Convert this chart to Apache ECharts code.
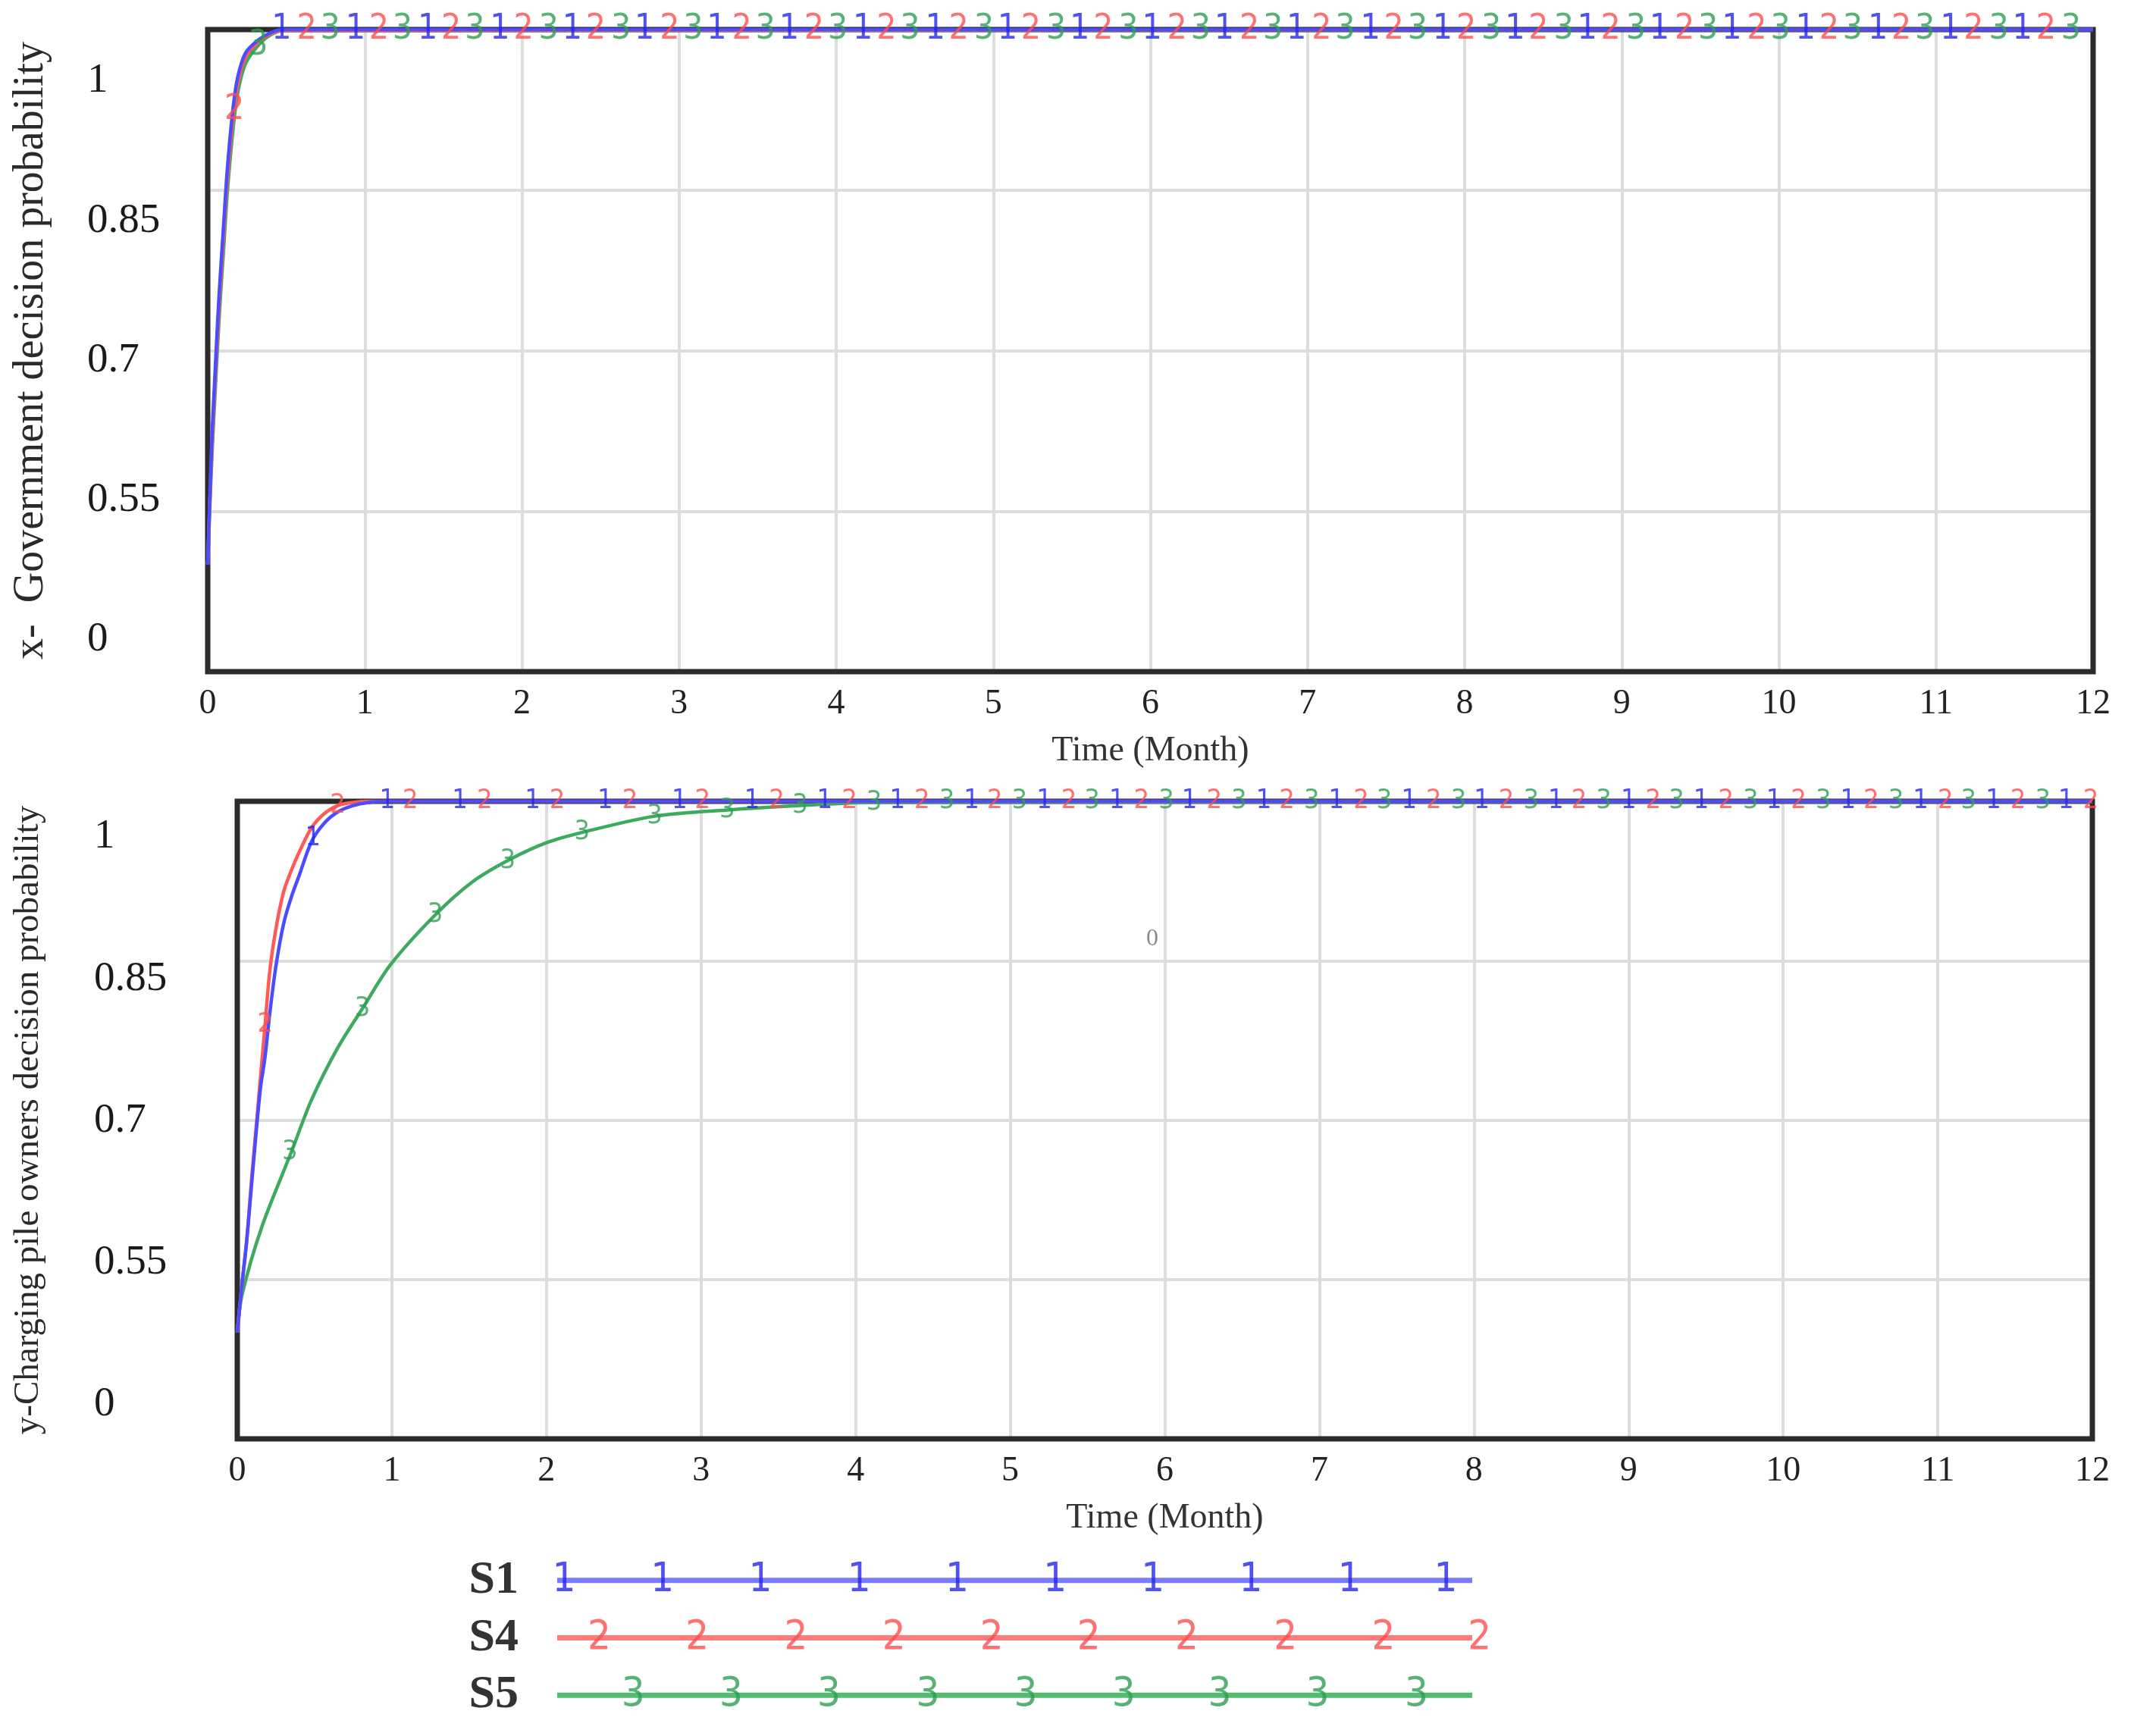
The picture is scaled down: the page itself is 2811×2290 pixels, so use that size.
<!DOCTYPE html>
<html><head><meta charset="utf-8">
<script src="https://cdn.jsdelivr.net/npm/echarts@6/dist/echarts.min.js"></script>
<style>html,body{margin:0;padding:0;background:#fff}#c{width:2811px;height:2290px}</style>
</head><body><div id="c"></div>
<script>
// ---------- tick labels ----------
const yTickLabels = ['0', '0.55', '0.7', '0.85', '1'];
const seriesNames = ['S1', 'S4', 'S5'];

// ---------- top chart: x - Government decision probability ----------
const topT  = [0, 0.015, 0.03, 0.045, 0.065, 0.08, 0.10, 0.125, 0.16, 0.19, 0.24, 0.32, 0.40, 0.48, 12];
const topS1 = [0.50, 0.57, 0.63, 0.674, 0.733, 0.77, 0.815, 0.87, 0.925, 0.955, 0.978, 0.990, 0.997, 1.0, 1.0];
const topS4 = [0.50, 0.565, 0.62, 0.665, 0.722, 0.76, 0.805, 0.86, 0.915, 0.948, 0.974, 0.988, 0.996, 0.999, 1.0];
const topS5 = [0.50, 0.56, 0.612, 0.655, 0.71, 0.748, 0.792, 0.848, 0.905, 0.94, 0.968, 0.985, 0.995, 0.999, 1.0];

// marker positions (time) and values for the top chart
const topM1T = [0.47, 0.94, 1.40, 1.86, 2.32, 2.78, 3.24, 3.70, 4.17, 4.63, 5.09, 5.55, 6.01, 6.47, 6.93, 7.40, 7.86, 8.32, 8.78, 9.24, 9.70, 10.17, 10.63, 11.09, 11.55];
const topM1V = [1, 1, 1, 1, 1, 1, 1, 1, 1, 1, 1, 1, 1, 1, 1, 1, 1, 1, 1, 1, 1, 1, 1, 1, 1];
const topM4T = [0.17, 0.63, 1.09, 1.55, 2.01, 2.47, 2.94, 3.40, 3.86, 4.32, 4.78, 5.24, 5.70, 6.17, 6.63, 7.09, 7.55, 8.01, 8.47, 8.93, 9.40, 9.86, 10.32, 10.78, 11.24, 11.70];
const topM4V = [0.925, 1, 1, 1, 1, 1, 1, 1, 1, 1, 1, 1, 1, 1, 1, 1, 1, 1, 1, 1, 1, 1, 1, 1, 1, 1];
const topM5T = [0.32, 0.78, 1.24, 1.70, 2.17, 2.63, 3.09, 3.55, 4.01, 4.47, 4.94, 5.40, 5.86, 6.32, 6.78, 7.24, 7.70, 8.17, 8.63, 9.09, 9.55, 10.01, 10.47, 10.93, 11.40, 11.86];
const topM5V = [0.985, 1, 1, 1, 1, 1, 1, 1, 1, 1, 1, 1, 1, 1, 1, 1, 1, 1, 1, 1, 1, 1, 1, 1, 1, 1];

// ---------- lower chart: y - Charging pile owners decision probability ----------
const lowT   = [0, 0.03, 0.06, 0.09, 0.12, 0.15, 0.18, 0.21, 0.25, 0.30, 0.35, 0.40, 0.48, 0.56, 0.65, 0.75, 0.85, 0.95, 12];
const lowS1  = [0.50, 0.545, 0.585, 0.635, 0.685, 0.73, 0.76, 0.80, 0.845, 0.885, 0.91, 0.93, 0.962, 0.979, 0.99, 0.996, 0.999, 1.0, 1.0];
const lowS4  = [0.50, 0.545, 0.585, 0.64, 0.69, 0.74, 0.79, 0.84, 0.88, 0.915, 0.935, 0.952, 0.975, 0.988, 0.996, 0.999, 1.0, 1.0, 1.0];
const lowS5T = [0, 0.03, 0.16, 0.35, 0.48, 0.65, 0.81, 0.99, 1.28, 1.52, 1.76, 2.0, 2.24, 2.70, 3.19, 3.65, 4.1, 12];
const lowS5  = [0.50, 0.535, 0.60, 0.67, 0.719, 0.768, 0.805, 0.846, 0.893, 0.924, 0.945, 0.961, 0.971, 0.986, 0.992, 0.996, 0.999, 1.0];

const lowM1T = [0.49, 0.97, 1.44, 1.91, 2.38, 2.86, 3.33, 3.80, 4.27, 4.75, 5.22, 5.69, 6.16, 6.64, 7.11, 7.58, 8.05, 8.53, 9.00, 9.47, 9.94, 10.42, 10.89, 11.36, 11.83];
const lowM1V = [0.965, 1, 1, 1, 1, 1, 1, 1, 1, 1, 1, 1, 1, 1, 1, 1, 1, 1, 1, 1, 1, 1, 1, 1, 1];
const lowM4T = [0.18, 0.65, 1.12, 1.60, 2.07, 2.54, 3.01, 3.49, 3.96, 4.43, 4.90, 5.38, 5.85, 6.32, 6.79, 7.27, 7.74, 8.21, 8.68, 9.16, 9.63, 10.10, 10.57, 11.05, 11.52, 11.99];
const lowM4V = [0.79, 0.996, 1, 1, 1, 1, 1, 1, 1, 1, 1, 1, 1, 1, 1, 1, 1, 1, 1, 1, 1, 1, 1, 1, 1, 1];
const lowM5T = [0.34, 0.81, 1.28, 1.75, 2.23, 2.70, 3.17, 3.64, 4.12, 4.59, 5.06, 5.53, 6.01, 6.48, 6.95, 7.42, 7.90, 8.37, 8.84, 9.31, 9.79, 10.26, 10.73, 11.20, 11.68];
const lowM5V = [0.67, 0.805, 0.893, 0.944, 0.971, 0.986, 0.992, 0.996, 0.999, 1, 1, 1, 1, 1, 1, 1, 1, 1, 1, 1, 1, 1, 1, 1, 1];

// ---------- legend sample marks (fraction along legend line) ----------
const legM1 = [0.0075, 0.115, 0.222, 0.33, 0.437, 0.544, 0.651, 0.758, 0.866, 0.971];
const legM4 = [0.046, 0.153, 0.261, 0.368, 0.475, 0.581, 0.688, 0.796, 0.903, 1.008];
const legM5 = [0.083, 0.19, 0.297, 0.405, 0.512, 0.619, 0.724, 0.831, 0.939];

// ---------- styling ----------
const serif = "'Liberation Serif','Times New Roman',serif";
const narrow = "'Liberation Sans Narrow','DejaVu Sans Condensed','Liberation Sans',sans-serif";
const lineCol = {S1: '#4c4cff', S4: '#ff5a5a', S5: '#3daa5e'};
const legCol  = {S1: '#7b7bff', S4: '#ff7b7b', S5: '#55bb72'};
const markCol = {S1: '#2626ee', S4: '#ff4d4d', S5: '#2e9e52'};
const markTxt = {S1: '1', S4: '2', S5: '3'};

const zip = (a, b) => a.map((v, i) => [v, b[i]]);

function curve(xi, yi, t, v, name) {
  return {type: 'line', xAxisIndex: xi, yAxisIndex: yi, data: zip(t, v), showSymbol: false,
    symbol: 'none', smooth: 0.3, clip: false, z: 3, silent: true,
    lineStyle: {color: lineCol[name], width: 4.5}};
}
function marks(xi, yi, t, v, name, size) {
  return {type: 'scatter', xAxisIndex: xi, yAxisIndex: yi, data: zip(t, v), symbol: 'circle',
    symbolSize: 1, clip: false, z: 5, silent: true, itemStyle: {color: 'rgba(0,0,0,0)'},
    label: {show: true, position: 'inside', formatter: markTxt[name], color: markCol[name],
      fontSize: size, fontFamily: narrow}};
}

const gridStyle = {show: true, borderColor: '#2b2b2b', borderWidth: 7, backgroundColor: 'rgba(0,0,0,0)', z: 1};
const splitStyle = {show: true, lineStyle: {color: '#dddddd', width: 4}};

function timeAxis(gi) {
  return {type: 'value', gridIndex: gi, min: 0, max: 12, interval: 1,
    axisLine: {show: false}, axisTick: {show: false}, splitLine: splitStyle,
    axisLabel: {margin: 20, fontSize: 46, fontFamily: serif, color: '#222', showMinLabel: true, showMaxLabel: true},
    name: 'Time (Month)', nameLocation: 'middle', nameGap: 82,
    nameTextStyle: {fontSize: 46, fontFamily: serif, color: '#333'}};
}
function dataY(gi, name, gap, fs) {
  return {type: 'value', gridIndex: gi, min: 0.4, max: 1.0,
    axisLine: {show: false}, axisTick: {show: false}, axisLabel: {show: false}, splitLine: {show: false},
    name: name, nameLocation: 'middle', nameRotate: 90, nameGap: gap,
    nameTextStyle: {fontSize: fs, fontFamily: serif, color: '#2a2a2a'}};
}
function gridY(gi) {
  return {type: 'value', gridIndex: gi, min: 0, max: 4, interval: 1,
    axisLine: {show: false}, axisTick: {show: false}, axisLabel: {show: false}, splitLine: splitStyle};
}
function labelY(gi, margin) {
  return {type: 'value', gridIndex: gi, min: 0, max: 4, interval: 1,
    axisLine: {show: false}, axisTick: {show: false}, splitLine: {show: false},
    axisLabel: {align: 'left', margin: margin, fontSize: 55, fontFamily: serif, color: '#1a1a1a',
      showMinLabel: true, showMaxLabel: true,
      formatter: v => yTickLabels[Math.round(v)]}};
}
const hiddenX = gi => ({type: 'value', gridIndex: gi, min: 0, max: 1, show: false});

const series = [
  curve(0, 0, topT, topS5, 'S5'), curve(0, 0, topT, topS4, 'S4'), curve(0, 0, topT, topS1, 'S1'),
  marks(0, 0, topM1T, topM1V, 'S1', 46), marks(0, 0, topM4T, topM4V, 'S4', 46), marks(0, 0, topM5T, topM5V, 'S5', 46),
  curve(2, 3, lowS5T, lowS5, 'S5'), curve(2, 3, lowT, lowS4, 'S4'), curve(2, 3, lowT, lowS1, 'S1'),
  marks(2, 3, lowM1T, lowM1V, 'S1', 36), marks(2, 3, lowM4T, lowM4V, 'S4', 36), marks(2, 3, lowM5T, lowM5V, 'S5', 36)
];
// legend rows
const legMarks = {S1: legM1, S4: legM4, S5: legM5};
seriesNames.forEach(n => {
  series.push({type: 'line', xAxisIndex: 4, yAxisIndex: 6, data: [[0, n], [1, n]], showSymbol: false,
    symbol: 'none', clip: false, z: 3, silent: true, lineStyle: {color: legCol[n], width: 7}});
  series.push({type: 'scatter', xAxisIndex: 4, yAxisIndex: 6, data: legMarks[n].map(x => [x, n]),
    symbol: 'circle', symbolSize: 1, clip: false, z: 5, silent: true, itemStyle: {color: 'rgba(0,0,0,0)'},
    label: {show: true, position: 'inside', formatter: markTxt[n], color: markCol[n], fontSize: 54, fontFamily: narrow}});
});

const chart = echarts.init(document.getElementById('c'), null, {renderer: 'canvas'});
chart.setOption({
  animation: false,
  backgroundColor: '#ffffff',
  grid: [
    Object.assign({left: 274, top: 39, width: 2487, height: 847, outerBoundsMode: 'none'}, gridStyle),
    {left: 274, top: 107, width: 2487, height: 737, show: false, outerBoundsMode: 'none'},
    Object.assign({left: 313, top: 1057, width: 2447, height: 841, outerBoundsMode: 'none'}, gridStyle),
    {left: 313, top: 1104, width: 2447, height: 749, show: false, outerBoundsMode: 'none'},
    {left: 735, top: 2047, width: 1207, height: 227, show: false, outerBoundsMode: 'none'}
  ],
  xAxis: [timeAxis(0), hiddenX(1), timeAxis(2), hiddenX(3), hiddenX(4)],
  yAxis: [
    dataY(0, 'x-  Government decision probability', 205, 56),
    gridY(0),
    labelY(1, 159),
    dataY(2, 'y-Charging pile owners decision probability', 252, 47),
    gridY(2),
    labelY(3, 189),
    {type: 'category', gridIndex: 4, data: ['S5', 'S4', 'S1'],
      axisLine: {show: false}, axisTick: {show: false}, splitLine: {show: false},
      axisLabel: {interval: 0, hideOverlap: false, align: 'right', margin: 51, fontSize: 62, fontWeight: 'bold', fontFamily: serif, color: '#333'}}
  ],
  graphic: [{type: 'text', left: 1512, top: 1223, silent: true,
    style: {text: '0', fontSize: 32, fontFamily: serif, fill: '#8a8a8a'}}],
  series: series
});
</script>
</body></html>
